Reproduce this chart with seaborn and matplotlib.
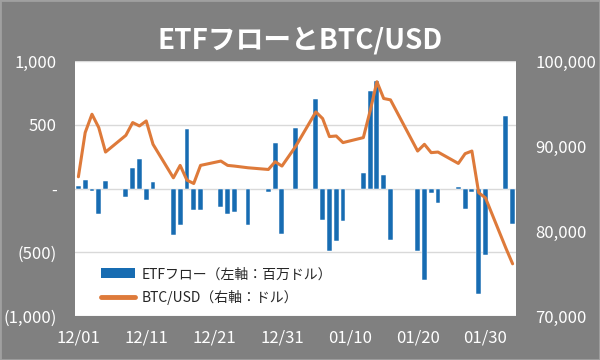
import pandas as pd
import numpy as np
import matplotlib
matplotlib.use("Agg")
import matplotlib.pyplot as plt
import matplotlib.dates as mdates
from matplotlib.patches import Patch, Rectangle
from matplotlib.lines import Line2D
from matplotlib.ticker import FixedLocator
import seaborn as sns

# --- data ---
dates = [
    "2025-12-01", "2025-12-02", "2025-12-03", "2025-12-04", "2025-12-05",
    "2025-12-08", "2025-12-09", "2025-12-10", "2025-12-11", "2025-12-12",
    "2025-12-15", "2025-12-16", "2025-12-17", "2025-12-18", "2025-12-19",
    "2025-12-22", "2025-12-23", "2025-12-24", "2025-12-26",
    "2025-12-29", "2025-12-30", "2025-12-31",
    "2026-01-02",
    "2026-01-05", "2026-01-06", "2026-01-07", "2026-01-08", "2026-01-09",
    "2026-01-12", "2026-01-13", "2026-01-14", "2026-01-15", "2026-01-16",
    "2026-01-20", "2026-01-21", "2026-01-22", "2026-01-23",
    "2026-01-26", "2026-01-27", "2026-01-28", "2026-01-29", "2026-01-30",
    "2026-02-02", "2026-02-03",
]

# ETF flow (millions of USD)
etf_flow = [
    18, 65, -21, -200, 58,
    -66, 163, 228, -87, 52,
    -362, -283, 464, -165, -165,
    -147, -197, -184, -283,
    -25, 360, -354,
    478,
    706, -249, -493, -409, -257,
    123, 761, 845, 105, -401,
    -488, -716, -34, -113,
    13, -160, -29, -827, -520,
    569, -278,
]

# BTC/USD price
btc_usd = [
    86380, 91580, 93740, 92170, 89290,
    91260, 92760, 92360, 92950, 90200,
    86260, 87720, 85980, 85590, 87720,
    88230, 87720, 87640, 87440,
    87240, 88150, 87640,
    89930,
    94010, 93230, 91110, 91180, 90400,
    90990, 94130, 97560, 95590, 95430,
    89410, 90200, 89220, 89290,
    87950, 89100, 89410, 84500, 83900,
    78000, 76140,
]

tick_dates = ["2025-12-01", "2025-12-11", "2025-12-21", "2025-12-31",
              "2026-01-10", "2026-01-20", "2026-01-30"]
left_ticks = [-1000, -500, 0, 500, 1000]
left_labels = ["(1,000)", "(500)", "-", "500", "1,000"]
right_ticks = [70000, 80000, 90000, 100000]
right_labels = ["70,000", "80,000", "90,000", "100,000"]

title = "ETFフローとBTC/USD"
label_flow = "ETFフロー（左軸：百万ドル）"
label_btc = "BTC/USD（右軸：ドル）"

BG = "#808080"
BAR_COLOR = "#176cb2"
LINE_COLOR = "#de7a3a"

sns.set_style("white")
plt.rcParams['font.family'] = ['Noto Sans CJK JP', 'DejaVu Sans']

df = pd.DataFrame({
    "date": mdates.date2num(pd.to_datetime(dates)),
    "flow": etf_flow,
    "btc": btc_usd,
})
start = mdates.date2num(pd.Timestamp("2025-12-01"))

fig = plt.figure(figsize=(6, 3.6), dpi=100, facecolor=BG)
ax = fig.add_axes([0.125, 0.1222, 0.735, 0.7083])
ax.set_facecolor("white")

# bars on a real date scale
sns.barplot(data=df, x="date", y="flow", native_scale=True, width=0.72,
            color=BAR_COLOR, saturation=1, edgecolor="white", linewidth=0.35,
            ax=ax, zorder=2)

ax2 = ax.twinx()
sns.lineplot(data=df, x="date", y="btc", color=LINE_COLOR, linewidth=2.2,
             sort=False, ax=ax2, zorder=3)

ax.set_xlim(start - 0.5, start + 64.5)
ax.set_ylim(-1000, 1000)
ax2.set_ylim(70000, 100000)

ax.yaxis.set_major_locator(FixedLocator(left_ticks))
ax.set_yticklabels(left_labels)
ax2.yaxis.set_major_locator(FixedLocator(right_ticks))
ax2.set_yticklabels(right_labels)
ax.xaxis.set_major_locator(FixedLocator(mdates.date2num(pd.to_datetime(tick_dates))))
ax.xaxis.set_major_formatter(mdates.DateFormatter("%m/%d"))

ax.grid(axis="y", color="#d9d9d9", linewidth=1, zorder=0)
ax.set_axisbelow(True)

for a in (ax, ax2):
    a.set_xlabel("")
    a.set_ylabel("")
    for s in a.spines.values():
        s.set_visible(False)
    a.tick_params(length=0, colors="white", labelsize=12)
ax.tick_params(axis="y", pad=13)
ax.tick_params(axis="x", pad=10)
ax2.tick_params(axis="y", pad=14)

handles = [Patch(facecolor=BAR_COLOR, edgecolor="none"),
           Line2D([0], [0], color=LINE_COLOR, linewidth=3.5)]
leg = ax2.legend(handles, [label_flow, label_btc], loc="lower left",
                 bbox_to_anchor=(0.06, 0.045), bbox_transform=ax.transAxes,
                 frameon=False, fontsize=10, handlelength=2.4,
                 handleheight=0.7, handletextpad=0.5, labelspacing=0.6,
                 borderpad=0, borderaxespad=0)

fig.text(0.5, 1 - 40 / 360, title, ha="center", va="center", fontsize=20,
         fontweight="bold", color="white")

fig.patches.append(Rectangle((0, 0), 1, 1, transform=fig.transFigure,
                             fill=False, edgecolor="#a0a0a0", linewidth=2))

fig.savefig("out.png", dpi=100, facecolor=BG)
